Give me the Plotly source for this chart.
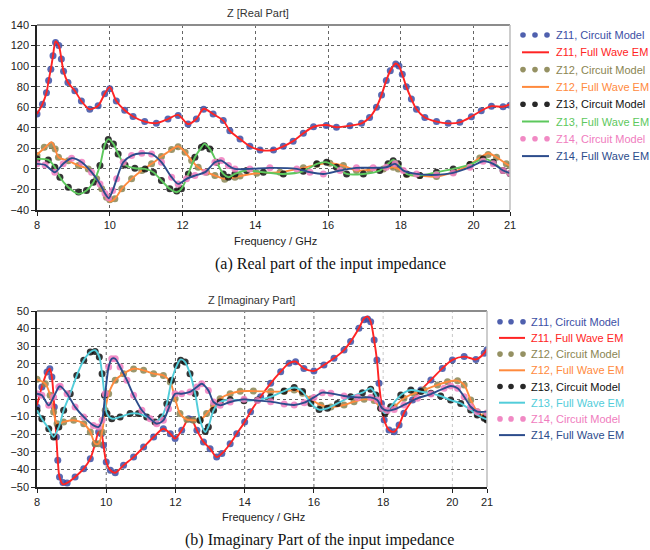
import plotly.graph_objects as go

W, H = 650, 550

# ---------------- Real part (GHz, Ohm) ----------------
f11r = [8.0, 8.15, 8.26, 8.32, 8.38, 8.44, 8.51, 8.6, 8.67, 8.73, 8.85, 9.04, 9.22, 9.45, 9.68, 9.86, 10.0,
        10.18, 10.41, 10.64, 10.96, 11.28, 11.6, 11.88, 12.15, 12.38, 12.58, 12.84, 13.12, 13.3, 13.58, 13.85,
        14.13, 14.5, 14.77, 15.04, 15.32, 15.6, 15.95, 16.23, 16.6, 16.92, 17.14, 17.33, 17.47, 17.6, 17.71,
        17.86, 17.95, 18.04, 18.15, 18.29, 18.43, 18.66, 18.98, 19.3, 19.62, 19.94, 20.21, 20.49, 20.81, 21.0]
z11r_em = [53.4, 63, 74, 86, 97, 110, 124, 120, 107, 95, 84, 76, 66, 58, 61.5, 73, 79.5,
           66, 57, 51, 46, 44.5, 48.5, 52.5, 43.7, 48.5, 58.5, 53.4, 47, 37, 29, 22,
           18.4, 18.4, 22, 27, 34.6, 41, 42.7, 40.5, 42, 44.3, 50, 60, 72, 86, 95.5,
           102.5, 100, 92, 80, 68, 58, 50, 46, 44.3, 45.3, 50.8, 56.6, 61, 60.5, 63]
z11r_cm = [53.4, 63, 74, 86, 97, 110, 123, 120, 107, 95, 84, 76, 66, 58, 61.5, 73, 78,
           66, 57, 51, 46, 44.5, 48.5, 52, 43.7, 48.5, 58, 53.4, 47, 37, 29, 22,
           18.4, 18.4, 22, 27, 34.6, 41, 42.2, 40.5, 42, 44.3, 50, 60, 72, 86, 95.5,
           102, 100, 92, 80, 68, 58, 50, 46, 44.3, 45.3, 50.8, 56.6, 61, 60.5, 62]

f12r = [8.0, 8.2, 8.4, 8.5, 8.59, 8.86, 9.14, 9.41, 9.64, 9.78, 9.91, 10.0, 10.14, 10.33, 10.6, 10.88, 11.15,
        11.42, 11.7, 11.88, 12.07, 12.25, 12.43, 12.66, 12.89, 13.16, 13.44, 13.58, 14.04, 14.68, 15.32, 15.69,
        16.05, 16.42, 16.78, 17.15, 17.52, 17.79, 17.93, 18.16, 18.52, 18.98, 19.44, 19.9, 20.17, 20.4, 20.63,
        20.9, 21.0]
z12r_em = [14, 20, 26, 19.4, 11.3, 8, 3.2, 0, -9.7, -19.4, -27.5, -31.7, -29, -19.4, -9.7, -1.6, 4.9,
           12, 18.8, 22, 16.2, 8.1, 1.6, -3.2, -6.5, -9.7, -8.1, -7, -4.2, -3.2, 1, 4.2,
           5.5, 3.2, -1.6, -1, 0, 1.6, 0, -5.5, -6.5, -7.5, -3.2, 4.2, 10.7, 15.2, 11.3,
           4.9, 3]
z12r_cm = [13, 21, 23, 19.4, 11.3, 8, 3.2, 0, -9.7, -19.4, -27.5, -30, -29, -19.4, -9.7, -1.6, 4.9,
           12, 18.8, 21.5, 16.2, 8.1, 1.6, -3.2, -6.5, -10, -8.1, -7, -4.2, -3.2, 1, 4.2,
           5.5, 3.2, -1.6, -1, 0, 1.6, 0, -5.5, -6.5, -7.5, -3.2, 4.2, 10.7, 14, 11.3,
           4.9, 3]

f13r = [8.0, 8.31, 8.49, 8.63, 8.86, 9.14, 9.36, 9.55, 9.73, 9.87, 9.96, 10.1, 10.23, 10.42, 10.69, 10.97,
        11.2, 11.42, 11.65, 11.84, 11.97, 12.16, 12.34, 12.52, 12.6, 12.75, 12.94, 13.12, 13.26, 13.44, 13.76,
        14.22, 14.77, 15.32, 15.69, 15.96, 16.23, 16.51, 16.97, 17.42, 17.65, 17.79, 17.93, 18.16, 18.52, 18.98,
        19.44, 19.9, 20.26, 20.54, 20.81, 21.0]
z13r_em = [9.7, 8.7, 1.6, -8.1, -17.8, -24.3, -21, -13, 3.2, 24.3, 29, 24.3, 14.6, 3.9, 0.6, 0,
           -3.2, -11.3, -19.4, -22.7, -19.4, -4.9, 11.3, 21, 24.3, 19.4, 6.5, -4.9, -8.1, -4.9, -1.6,
           -3.2, -4.9, -2.3, 4.9, 6.5, 1.6, -4.9, -4.9, -1.6, 4.9, 8.7, 4.9, -4.9, -6.5, -3.2,
           0, 4.2, 9.7, 6.5, -1.6, -5.5]
z13r_cm = [9.7, 8.7, 1.6, -8.1, -17.8, -22.5, -21, -13, 3.2, 22, 28.5, 24.3, 14.6, 3.9, 0.6, 0,
           -3.2, -11.3, -19.4, -21.5, -19.4, -4.9, 11.3, 21, 22.5, 19.4, 6.5, -4.9, -8.1, -4.9, -1.6,
           -3.2, -4.9, -2.3, 4.9, 6.5, 1.6, -4.9, -4.9, -1.6, 4.9, 8, 4.9, -4.9, -6.5, -3.2,
           0, 4.2, 9.7, 6.5, -1.6, -4.5]

f14r = [8.0, 8.22, 8.49, 8.72, 8.95, 9.23, 9.5, 9.73, 9.87, 9.97, 10.08, 10.19, 10.37, 10.6, 10.88, 11.15, 11.42,
        11.7, 11.88, 12.11, 12.34, 12.62, 12.89, 13.07, 13.26, 13.44, 13.85, 14.4, 15.14, 15.5, 15.87, 16.33,
        16.78, 17.24, 17.6, 17.84, 18.07, 18.43, 18.98, 19.44, 19.9, 20.26, 20.54, 20.81, 21.0]
z14r_em = [4.9, 3.9, -3.2, 4.9, 10.4, 6.5, -3.2, -14.6, -24, -28.5, -21, -9.7, 6.5, 13, 15.2, 14.6, 6.5,
           -8.1, -14.6, -9.7, -6.5, -3.2, 6.5, 8.1, 3.2, 0, 0, 1, 0, -3.2, -4.9, -1.6,
           1, 1, 1.6, 4.9, -1.6, -4.9, -5.8, -3.9, 1.6, 7.5, 4.9, -1.6, -4.2]
z14r_cm = [4.9, 3.9, -3.2, 4.9, 10.4, 6.5, -3.2, -14.6, -24, -28, -21, -9.7, 6.5, 13, 15.2, 14.6, 6.5,
           -8.1, -14.6, -9.7, -6.5, -3.2, 6.5, 8.1, 3.2, 0, 0, 1, 0, -3.2, -4.9, -1.6,
           1, 1, 1.6, 4.9, -1.6, -4.9, -5.8, -3.9, 1.6, 7.5, 4.9, -1.6, -4.2]

# ---------------- Imaginary part (GHz, Ohm) ----------------
f11i = [8.0, 8.14, 8.29, 8.37, 8.43, 8.5, 8.56, 8.6, 8.65, 8.75, 8.87, 9.1, 9.35, 9.54, 9.68, 9.78, 9.86, 9.92,
        10.0, 10.12, 10.26, 10.5, 10.79, 11.08, 11.37, 11.65, 11.85, 11.99, 12.18, 12.38, 12.47, 12.62, 12.81,
        13.0, 13.19, 13.34, 13.58, 13.77, 14.0, 14.17, 14.46, 14.75, 15.04, 15.28, 15.47, 15.71, 16.0, 16.29,
        16.58, 16.87, 17.06, 17.3, 17.45, 17.55, 17.64, 17.74, 17.82, 17.88, 17.95, 18.03, 18.17, 18.32, 18.46,
        18.6, 18.85, 19.09, 19.38, 19.71, 20.0, 20.34, 20.68, 20.92, 21.0]
z11i_em = [-3.6, 6.8, 15.3, 17.2, 12.5, -4.5, -21.6, -34.8, -44.3, -48.5, -47.7, -44.3, -39.6, -33.9, -25.4,
           -18.8, -19.7, -26.3, -35.8, -40.5, -41.9, -37.7, -33, -27.3, -21.6, -16.9, -19.7, -22.5, -17.8,
           -11.2, -11.7, -17.8, -24.4, -28.2, -33, -31, -25.4, -19.7, -13, -7.2, 1.3, 8.9, 15.5, 20.3, 21.2,
           17.4, 15.9, 19.3, 23.1, 27.8, 32.6, 40.2, 45.8, 46.8, 43.9, 33.5, 22.2, 8.9, -2.5, -11.9, -17.6,
           -18.6, -14.8, -8.1, -0.6, 5.1, 10.8, 17.4, 22.2, 24.1, 22.5, 26, 28.5]
z11i_cm = [-4.5, 6.8, 15.3, 17.2, 12.5, -4.5, -21.6, -34.8, -44.3, -47.5, -47.7, -44.3, -39.6, -33.9, -25.4,
           -18.8, -19.7, -26.3, -35.8, -40.5, -41.9, -37.7, -33, -27.3, -21.6, -16.9, -19.7, -22.5, -17.8,
           -11.2, -11.7, -17.8, -24.4, -28.2, -33, -31, -25.4, -19.7, -13, -7.2, 1.3, 8.9, 15.5, 20.3, 21.2,
           17.4, 15.9, 19.3, 23.1, 27.8, 32.6, 40.2, 45, 45.5, 43.9, 33.5, 22.2, 8.9, -2.5, -11.9, -17.6,
           -18.6, -14.8, -8.1, -0.6, 5.1, 10.8, 17.4, 22.2, 24.1, 22.5, 26, 28]

f12i = [8.0, 8.24, 8.38, 8.48, 8.58, 8.77, 9.06, 9.35, 9.54, 9.68, 9.78, 9.88, 9.97, 10.07, 10.26, 10.5, 10.79,
        11.08, 11.37, 11.65, 11.85, 11.99, 12.13, 12.33, 12.52, 12.71, 12.9, 13.1, 13.29, 13.58, 13.87, 14.25,
        14.75, 15.14, 15.43, 15.67, 15.91, 16.2, 16.49, 16.87, 17.16, 17.45, 17.74, 17.93, 18.08, 18.32, 18.6,
        18.89, 19.18, 19.57, 19.86, 20.15, 20.34, 20.53, 20.72, 20.92, 21.0]
z12i_em = [11.2, 8.7, 2.1, -7.4, -14, -13, -12.1, -14, -18.8, -25.4, -25.4, -18.8, -6.4, 3, 10.6, 14.4, 17.2,
           16.3, 14.4, 13.4, 9.7, 0.2, -8.3, -11.7, -12.1, -12.1, -8.3, -3.6, 0.2, 3, 4.4, 4.5,
           4.2, 4.2, 5.1, 3.2, 0, -3.5, -4.5, -3.4, -1.5, -0.2, -0.9, -5.3, -7.2, -4.4, 0.4,
           3.2, 5.1, 8, 9.8, 10.4, 8, -0.6, -7.2, -10, -11]
z12i_cm = [11.2, 8.7, 2.1, -7.4, -14, -13, -12.1, -14, -18.8, -25.4, -25.4, -18.8, -6.4, 3, 10.6, 14.4, 17,
           16.3, 14.4, 13.4, 9.7, 0.2, -8.3, -11.7, -12.1, -12.1, -8.3, -3.6, 0.2, 3, 4.4, 4.5,
           4.2, 4.2, 5.1, 3.2, 0, -3.5, -4.5, -3.4, -1.5, -0.2, -0.9, -5.3, -7.2, -4.4, 0.4,
           3.2, 5.1, 8, 9.8, 10.4, 8, -0.6, -7.2, -10, -11.5]

f13i = [8.0, 8.14, 8.34, 8.48, 8.63, 8.77, 8.96, 9.15, 9.35, 9.54, 9.68, 9.8, 9.88, 9.95, 10.02, 10.16, 10.4,
        10.69, 10.93, 11.17, 11.41, 11.6, 11.75, 11.89, 12.04, 12.15, 12.28, 12.42, 12.57, 12.71, 12.86, 12.95,
        13.1, 13.29, 13.58, 13.98, 14.37, 14.75, 15.14, 15.43, 15.67, 15.91, 16.15, 16.39, 16.68, 17.06, 17.4,
        17.64, 17.79, 17.93, 18.05, 18.22, 18.51, 18.8, 19.09, 19.38, 19.66, 19.95, 20.24, 20.53, 20.72, 20.92,
        21.0]
z13i_em = [-6.4, -11.2, -16.9, -21.6, -15.9, -6.4, 3, 13.4, 22, 26.7, 27.7, 23.9, 14.4, 2.1, -8.3, -11.2,
           -10.2, -8.3, -8.3, -10.2, -13, -10.2, -2.7, 10.6, 19.1, 22.5, 21, 14.4, 3, -12.1, -18.8, -15.9,
           -6.4, -1.7, -0.4, -1, -0.5, 1.2, 4.5, 6.5, 4.2, -2.5, -6, -5.3, -2.5, 1.3, 3.6,
           6.1, 2.3, -5.3, -8.1, -4.4, 2.3, 5.1, 4.2, 3.2, 1.7, -0.6, -2.5, -6.3, -9.1, -11,
           -11.5]
z13i_cm = [-6.4, -11.2, -16.9, -21.6, -15.9, -6.4, 3, 13.4, 22, 26.7, 27, 23.9, 14.4, 2.1, -8.3, -11.2,
           -10.2, -8.3, -8.3, -10.2, -13, -10.2, -2.7, 10.6, 19.1, 22, 21, 14.4, 3, -12.1, -18.5, -15.9,
           -6.4, -1.7, -0.4, -1, -0.5, 1.2, 4.5, 6.5, 4.2, -2.5, -6, -5.3, -2.5, 1.3, 3.6,
           5.5, 2.3, -5.3, -8.1, -4.4, 2.3, 5.1, 4.2, 3.2, 1.7, -0.6, -2.5, -6.3, -9.1, -11,
           -12]

f14i = [8.0, 8.14, 8.34, 8.48, 8.63, 8.67, 8.87, 9.1, 9.35, 9.63, 9.78, 9.88, 9.97, 10.07, 10.16, 10.26, 10.4,
        10.6, 10.79, 11.03, 11.27, 11.46, 11.65, 11.8, 11.99, 12.18, 12.42, 12.62, 12.76, 12.95, 13.1, 13.29,
        13.58, 13.98, 14.37, 14.75, 15.14, 15.43, 15.72, 16.0, 16.24, 16.49, 16.87, 17.26, 17.64, 17.83, 17.97,
        18.12, 18.32, 18.6, 18.99, 19.38, 19.76, 19.95, 20.15, 20.34, 20.53, 20.72, 21.0]
z14i_em = [3, 2.1, -3.6, 1.1, 6.8, 7.2, 3, -4.5, -10.2, -15, -15.9, -12.1, 3, 18.2, 22.9, 22.9, 18.2,
           10.6, 2.1, -6.4, -11.2, -14, -12.1, -5.5, 3, 3, 4, 6.8, 8.7, 4.9, -1.7, -3.6,
           -1.7, -0.2, -0.9, -1.5, -2.8, -3.4, -2.1, 0.9, 3.6, 3.2, 1.7, 0.9, 0.9, -0.6, -5.3,
           -6.6, -5.9, -3.4, 0.4, 2.8, 6.1, 7.4, 6.1, 1.3, -4.4, -7.2, -7.2]
z14i_cm = [3, 2.1, -3.6, 1.1, 6.8, 7.2, 3, -4.5, -10.2, -15, -15.9, -12.1, 3, 18.2, 22.9, 22.9, 18.2,
           10.6, 2.1, -6.4, -11.2, -14, -12.1, -5.5, 3, 3, 4, 6.8, 8.7, 4.9, -1.7, -3.6,
           -1.7, -0.2, -0.9, -1.5, -2.8, -3.4, -2.1, 0.9, 3.6, 3.2, 1.7, 0.9, 0.9, -0.6, -5.3,
           -6.6, -5.9, -3.4, 0.4, 2.8, 6.1, 7.4, 6.1, 1.3, -4.4, -7.2, -8]

x_ticks = [8, 10, 12, 14, 16, 18, 20, 21]
y_ticks_re = [-40, -20, 0, 20, 40, 60, 80, 100, 120, 140]
y_ticks_im = [-50, -40, -30, -20, -10, 0, 10, 20, 30, 40, 50]
# vertical grid of the imaginary panel: darker lines up to 16 GHz, faint ones above
grid_im_dark = [10, 12, 14, 16]
grid_im_light = [18, 20]

legend_labels = ["Z11, Circuit Model", "Z11, Full Wave EM", "Z12, Circuit Model", "Z12, Full Wave EM",
                 "Z13, Circuit Model", "Z13, Full Wave EM", "Z14, Circuit Model", "Z14, Full Wave EM"]

# colours: (circuit-model dots, full-wave line)
C11 = ("#3C4FA5", "#FF2424")
C12 = ("#8A8552", "#FF8A3D")
C13_RE = ("#111111", "#5DC85D")
C13_IM = ("#111111", "#52CDDA")
C14 = ("#F07CBE", "#2C4C8C")

FONT = "Liberation Sans, Arial, sans-serif"


def px(x):
    return x / W


def py(y):
    return 1 - y / H


fig = go.Figure()


def add_pair(f, cm, em, colors, xa, ya):
    fig.add_trace(go.Scatter(x=f, y=cm, mode="markers", xaxis=xa, yaxis=ya, showlegend=False,
                             marker=dict(size=7, color=colors[0], opacity=0.85, line=dict(width=0))))
    fig.add_trace(go.Scatter(x=f, y=em, mode="lines", xaxis=xa, yaxis=ya, showlegend=False,
                             line=dict(color=colors[1], width=1.9, shape="spline", smoothing=0.8)))


add_pair(f11r, z11r_cm, z11r_em, C11, "x", "y")
add_pair(f12r, z12r_cm, z12r_em, C12, "x", "y")
add_pair(f13r, z13r_cm, z13r_em, C13_RE, "x", "y")
add_pair(f14r, z14r_cm, z14r_em, C14, "x", "y")

add_pair(f11i, z11i_cm, z11i_em, C11, "x2", "y2")
add_pair(f12i, z12i_cm, z12i_em, C12, "x2", "y2")
add_pair(f13i, z13i_cm, z13i_em, C13_IM, "x2", "y2")
add_pair(f14i, z14i_cm, z14i_em, C14, "x2", "y2")

# plot-area pixel boxes (left, top, right, bottom)
BOX_RE = (37, 25, 510, 210)
BOX_IM = (37, 311, 487, 487)

axis_common = dict(showline=True, linecolor="#222", linewidth=1.5, ticks="outside", ticklen=4,
                   tickcolor="#222", tickfont=dict(family=FONT, size=11, color="#222"),
                   showgrid=True, gridcolor="#666", griddash="dot", gridwidth=1,
                   zeroline=False, automargin=False, mirror=False)

fig.update_layout(
    width=W, height=H, margin=dict(l=0, r=0, t=0, b=0),
    paper_bgcolor="white", plot_bgcolor="white", showlegend=False,
    xaxis=dict(axis_common, domain=[px(BOX_RE[0]), px(BOX_RE[2])], range=[8, 21], tickvals=x_ticks, anchor="y"),
    yaxis=dict(axis_common, domain=[py(BOX_RE[3]), py(BOX_RE[1])], range=[-40, 140], tickvals=y_ticks_re,
               anchor="x"),
    xaxis2=dict(axis_common, domain=[px(BOX_IM[0]), px(BOX_IM[2])], range=[8, 21], tickvals=x_ticks,
                anchor="y2", showgrid=False),
    yaxis2=dict(axis_common, domain=[py(BOX_IM[3]), py(BOX_IM[1])], range=[-50, 50], tickvals=y_ticks_im,
                anchor="x2"),
)

shapes = []
annotations = []

# vertical grid lines of the imaginary panel
for g in grid_im_dark:
    shapes.append(dict(type="line", xref="x2", yref="y2 domain", x0=g, x1=g, y0=0, y1=1, layer="below",
                       line=dict(color="#666", width=1, dash="dot")))
for g in grid_im_light:
    shapes.append(dict(type="line", xref="x2", yref="y2 domain", x0=g, x1=g, y0=0, y1=1, layer="below",
                       line=dict(color="#c8c8c8", width=1, dash="dot")))

# top and right frame lines of both panels
for (l, t, r, b) in (BOX_RE, BOX_IM):
    shapes.append(dict(type="line", xref="paper", yref="paper", x0=px(l), x1=px(r), y0=py(t), y1=py(t),
                       line=dict(color="#8c8c8c", width=2)))
    shapes.append(dict(type="line", xref="paper", yref="paper", x0=px(r), x1=px(r), y0=py(t), y1=py(b),
                       line=dict(color="#bdbdbd", width=1.5)))


def text(x, y, s, size=11, color="#222", family=FONT, anchor="center"):
    annotations.append(dict(x=px(x), y=py(y), xref="paper", yref="paper", text=s, showarrow=False,
                            xanchor=anchor, yanchor="middle",
                            font=dict(family=family, size=size, color=color)))


text(258, 13, "Z [Real Part]", color="#333")
text(252, 300, "Z [Imaginary Part]", color="#333")
text(275, 241, "Frequency / GHz", color="#222")
text(263, 517, "Frequency / GHz", color="#222")
text(330, 264, "(a) Real part of the input impedance", size=16, color="#111",
     family="Liberation Serif, Times New Roman, serif")
text(319, 540, "(b) Imaginary Part of the input impedance", size=16, color="#111",
     family="Liberation Serif, Times New Roman, serif")


def legend(x_dots, x_line, x_text, y0, dy, colors, text_colors):
    for i, label in enumerate(legend_labels):
        y = y0 + dy * i
        pair = colors[i // 2]
        if i % 2 == 0:
            for xd in x_dots:
                r = 2.8
                shapes.append(dict(type="circle", xref="paper", yref="paper",
                                   x0=px(xd - r), x1=px(xd + r), y0=py(y + r), y1=py(y - r),
                                   fillcolor=pair[0], line=dict(width=0), opacity=0.9))
        else:
            shapes.append(dict(type="line", xref="paper", yref="paper", x0=px(x_line[0]), x1=px(x_line[1]),
                               y0=py(y), y1=py(y), line=dict(color=pair[1], width=2)))
        text(x_text, y, label, color=text_colors[i], anchor="left")


txt_re = ["#3C4FA5", "#FF2424", "#8A8552", "#FF8A3D", "#111111", "#5DC85D", "#F07CBE", "#2C4C8C"]
txt_im = ["#3C4FA5", "#FF2424", "#8A8552", "#FF8A3D", "#111111", "#52CDDA", "#F07CBE", "#2C4C8C"]

legend([523, 535, 547], (522, 549), 554, 35, 17.3, [C11, C12, C13_RE, C14], txt_re)
legend([500, 511, 523], (499, 525), 529, 321.7, 16.2, [C11, C12, C13_IM, C14], txt_im)

fig.update_layout(shapes=shapes, annotations=annotations)

fig.write_html("out.html")
